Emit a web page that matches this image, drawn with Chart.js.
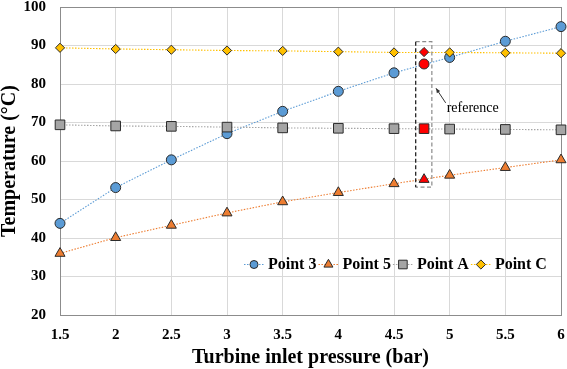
<!DOCTYPE html>
<html>
<head>
<meta charset="utf-8">
<script src="https://cdn.jsdelivr.net/npm/chart.js@4.4.1/dist/chart.umd.min.js"></script>
<style>
  html, body { margin:0; padding:0; background:#fff; }
  #wrap { width:567px; height:369px; }
</style>
</head>
<body>
<div id="wrap"><canvas id="chart" width="567" height="369"></canvas></div>
<script>
// ── values ──────────────────────────────────────────────────────────────
const pressure = [1.5, 2, 2.5, 3, 3.5, 4, 4.5, 5, 5.5, 6];
const point3 = [43.8, 53.1, 60.3, 67.1, 72.9, 78.1, 82.9, 86.9, 91.1, 94.9];
const point5 = [36.0, 40.1, 43.3, 46.5, 49.4, 51.8, 54.1, 56.3, 58.3, 60.3];
const pointA = [69.4, 69.1, 69.0, 68.8, 68.6, 68.5, 68.4, 68.3, 68.2, 68.1];
const pointC = [89.4, 89.1, 88.9, 88.7, 88.6, 88.4, 88.2, 88.2, 88.1, 88.0];
// reference case: C, 3, A, 5
const refPressure = 4.77;
const refValues = [88.3, 85.2, 68.4, 55.2];

const xTicks = { min: 1.5, max: 6, step: 0.5 };
const yTicks = { min: 20, max: 100, step: 10 };

// annotation placement (data units)
const refBox = { x0: 4.695, x1: 4.84, y0: 53.2, y1: 91.0 };
const refArrow = { from: [4.964, 75.1], to: [4.877, 78.9] };
const refLabel = { text: 'reference', at: [4.973, 72.8] };

const SERIF = "'Liberation Serif', 'Times New Roman', serif";
const C = { p3:'#5b9bd5', p5:'#ed7d31', pA:'#a5a5a5', pC:'#ffc000', ref:'#ff0000',
  edge:'#2b2b2b', grid:'#d9d9d9', frame:'#8c8c8c' };

const xy = ys => pressure.map((x, i) => ({ x, y: ys[i] }));

function series(label, ys, color, style, radius, order) {
  return { label, data: xy(ys), borderColor: color, backgroundColor: color,
    borderWidth: 1.1, borderDash: [1.5, 1.5], tension: 0, clip: false, order,
    pointStyle: style, pointRadius: radius, pointHoverRadius: radius,
    pointBackgroundColor: color, pointBorderColor: C.edge, pointBorderWidth: 1 };
}

const datasets = [
  series('Point 3', point3, C.p3, 'circle', 5, 5),
  series('Point 5', point5, C.p5, 'triangle', 5.8, 4),
  series('Point A', pointA, C.pA, 'rect', 6.8, 3),
  series('Point C', pointC, C.pC, 'rectRot', 4.6, 2),
  { label: 'reference', data: refValues.map(y => ({ x: refPressure, y })), showLine: false,
    clip: false, order: 1, pointStyle: ['rectRot', 'circle', 'rect', 'triangle'],
    pointRadius: [4.6, 5, 6.8, 5.8], pointBackgroundColor: C.ref,
    pointBorderColor: C.edge, pointBorderWidth: 1 }
];

function marker(ctx, style, x, y, r) {
  ctx.beginPath();
  if (style === 'circle') ctx.arc(x, y, r, 0, Math.PI * 2);
  else if (style === 'rect') ctx.rect(x - r, y - r, 2 * r, 2 * r);
  else if (style === 'rectRot') { ctx.moveTo(x - r, y); ctx.lineTo(x, y - r); ctx.lineTo(x + r, y); ctx.lineTo(x, y + r); ctx.closePath(); }
  else if (style === 'triangle') { const h = r * Math.sqrt(3) / 2; ctx.moveTo(x, y - r); ctx.lineTo(x + h, y + r / 2); ctx.lineTo(x - h, y + r / 2); ctx.closePath(); }
  ctx.fill(); ctx.stroke();
}

const frame = {
  id: 'frame',
  beforeDatasetsDraw(chart) {
    const { ctx, chartArea: a } = chart;
    ctx.save();
    ctx.strokeStyle = C.frame; ctx.lineWidth = 1;
    ctx.strokeRect(Math.round(a.left) + 0.5, Math.round(a.top) + 0.5, Math.round(a.right - a.left), Math.round(a.bottom - a.top));
    ctx.restore();
  }
};

const refNote = {
  id: 'refNote',
  afterDatasetsDraw(chart) {
    const { ctx, scales: { x, y } } = chart;
    const l = x.getPixelForValue(refBox.x0), r = x.getPixelForValue(refBox.x1);
    const t = y.getPixelForValue(refBox.y1), b = y.getPixelForValue(refBox.y0);
    ctx.save();
    ctx.lineWidth = 1.2; ctx.setLineDash([4, 2.5]);
    ctx.strokeStyle = '#8a8a8a';
    ctx.beginPath(); ctx.moveTo(l, t); ctx.lineTo(r, t); ctx.lineTo(r, b); ctx.lineTo(l, b); ctx.stroke();
    ctx.strokeStyle = '#111';
    ctx.beginPath(); ctx.moveTo(l, t); ctx.lineTo(l, b); ctx.stroke();
    ctx.setLineDash([]);
    // arrow
    const fx = x.getPixelForValue(refArrow.from[0]), fy = y.getPixelForValue(refArrow.from[1]);
    const tx = x.getPixelForValue(refArrow.to[0]), ty = y.getPixelForValue(refArrow.to[1]);
    const ang = Math.atan2(ty - fy, tx - fx);
    ctx.strokeStyle = '#333'; ctx.fillStyle = '#333'; ctx.lineWidth = 1;
    ctx.beginPath(); ctx.moveTo(fx, fy); ctx.lineTo(tx, ty); ctx.stroke();
    ctx.beginPath(); ctx.moveTo(tx, ty);
    ctx.lineTo(tx - 5 * Math.cos(ang - 0.4), ty - 5 * Math.sin(ang - 0.4));
    ctx.lineTo(tx - 5 * Math.cos(ang + 0.4), ty - 5 * Math.sin(ang + 0.4));
    ctx.closePath(); ctx.fill();
    ctx.fillStyle = '#000'; ctx.font = '14px ' + SERIF; ctx.textBaseline = 'alphabetic';
    ctx.fillText(refLabel.text, x.getPixelForValue(refLabel.at[0]), y.getPixelForValue(refLabel.at[1]));
    ctx.restore();
  }
};

// legend drawn inside the plot like the original
const insideLegend = {
  id: 'insideLegend',
  afterDatasetsDraw(chart) {
    const { ctx, chartArea: a } = chart;
    const sizes = { circle: 4, triangle: 5.2, rect: 4.3, rectRot: 4.6 };
    let px = a.left + 184;
    const py = a.bottom - 50.5;
    ctx.save();
    ctx.font = 'bold 16px ' + SERIF; ctx.textBaseline = 'middle';
    chart.data.datasets.slice(0, 4).forEach(ds => {
      ctx.strokeStyle = ds.borderColor; ctx.lineWidth = 1.1; ctx.setLineDash([1.5, 1.5]);
      ctx.beginPath(); ctx.moveTo(px, py); ctx.lineTo(px + 20, py); ctx.stroke();
      ctx.setLineDash([]);
      ctx.fillStyle = ds.pointBackgroundColor; ctx.strokeStyle = C.edge; ctx.lineWidth = 1;
      marker(ctx, ds.pointStyle, px + 10, py, sizes[ds.pointStyle]);
      ctx.fillStyle = '#000';
      ctx.fillText(ds.label, px + 24, py);
      px += 24 + ctx.measureText(ds.label).width + 2;
    });
    ctx.restore();
  }
};

new Chart(document.getElementById('chart'), {
  type: 'line',
  data: { datasets },
  options: {
    responsive: false, animation: false,
    layout: { autoPadding: false, padding: { top: 7, right: 6, left: 0, bottom: 0 } },
    plugins: { legend: { display: false }, tooltip: { enabled: false } },
    scales: {
      x: {
        type: 'linear', min: xTicks.min, max: xTicks.max,
        ticks: { stepSize: xTicks.step, color: '#000', padding: 11, callback: v => String(v),
          font: { family: SERIF, size: 15, weight: 'bold' } },
        grid: { color: C.grid, drawTicks: false }, border: { display: false },
        title: { display: true, text: 'Turbine inlet pressure (bar)', color: '#000', padding: { top: 0, bottom: 1.5 },
          font: { family: SERIF, size: 20, weight: 'bold', lineHeight: 1 } },
        afterFit: s => { s.height = 54; s.paddingLeft = 0; s.paddingRight = 0; }
      },
      y: {
        min: yTicks.min, max: yTicks.max,
        ticks: { stepSize: yTicks.step, color: '#000', padding: 14, font: { family: SERIF, size: 15, weight: 'bold' } },
        grid: { color: C.grid, drawTicks: false }, border: { display: false },
        title: { display: true, text: 'Temperature (°C)', color: '#000', padding: { top: 0, bottom: 0 },
          font: { family: SERIF, size: 20, weight: 'bold', lineHeight: 1 } },
        afterFit: s => { s.width = 60; s.paddingTop = 0; s.paddingBottom = 0; }
      }
    }
  },
  plugins: [frame, refNote, insideLegend]
});
</script>
</body>
</html>
